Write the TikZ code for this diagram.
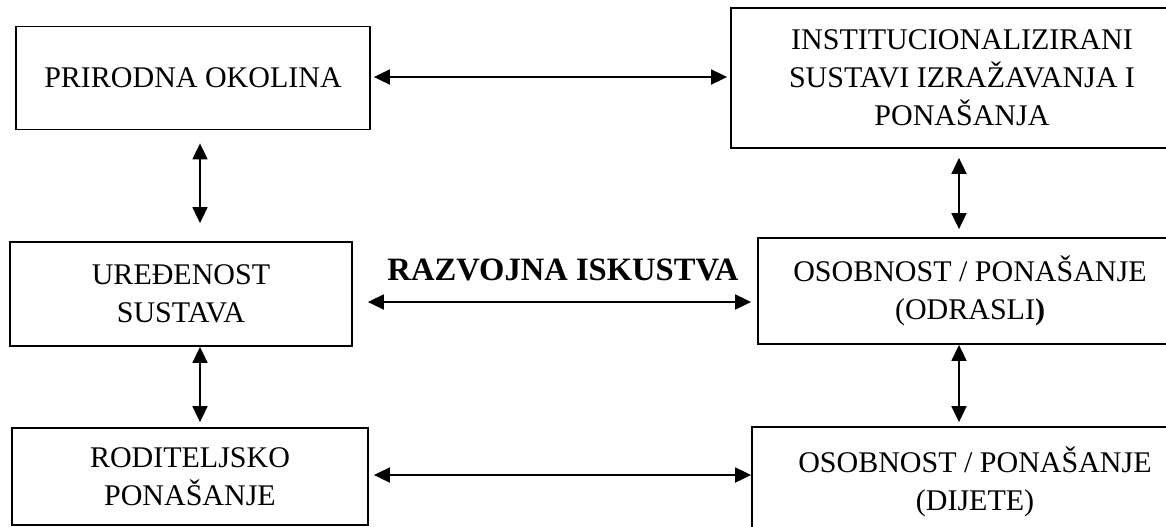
\documentclass[tikz,border=0pt]{standalone}
\usepackage{fontspec}
\setmainfont{Liberation Serif}
\usetikzlibrary{arrows.meta,positioning,calc}

\begin{document}
\begin{tikzpicture}[x=0.5pt,y=-0.5pt,
  box/.style={draw,line width=0.9pt,align=center,inner sep=0pt,
    font=\fontsize{15}{19}\selectfont},
  cutbox/.style={box,draw=none},
  rim/.style={line width=0.9pt},
  link/.style={{Triangle[length=8pt,width=7.5pt]}-{Triangle[length=8pt,width=7.5pt]},
    line width=0.9pt}]
  \useasboundingbox (0,0) rectangle (1166,526);
  \clip (0,0) rectangle (1166,526);
  % left column
  \node[box,minimum width=177pt,minimum height=51.5pt] (prirodna) at (193,78)
    {PRIRODNA OKOLINA};
  \node[box,minimum width=171pt,minimum height=52pt] (uredenost) at (181,294)
    {UREĐENOST\\SUSTAVA};
  \node[box,minimum width=178pt,minimum height=48.5pt] (roditelj) at (190,476.5)
    {RODITELJSKO\\PONAŠANJE};
  % right column, cut off by the page edge
  \node[cutbox,minimum width=230pt,minimum height=69pt] (institucija) at (962,78)
    {INSTITUCIONALIZIRANI\\SUSTAVI IZRAŽAVANJA I\\PONAŠANJA};
  \node[cutbox,minimum width=211pt,minimum height=52pt] (odrasli) at (970,291)
    {OSOBNOST / PONAŠANJE\\(ODRASLI\textbf{)}};
  \node[cutbox,minimum width=222pt,minimum height=54pt] (dijete) at (975,482)
    {OSOBNOST / PONAŠANJE\\(DIJETE)};
  \foreach \n in {institucija,odrasli,dijete}
    \draw[rim] (\n.north east) -- (\n.north west) -- (\n.south west) -- (\n.south east);
  \node[font=\fontsize{16.3}{19}\selectfont\bfseries] (razvojna) at (563,270)
    {RAZVOJNA ISKUSTVA};
  % connectors
  \draw[link,shorten <=1.5pt,shorten >=2pt]
    ([yshift=0.5pt]prirodna.east) -- ([yshift=0.5pt]prirodna.east -| institucija.west);
  \draw[link,shorten <=6.5pt,shorten >=9pt]
    ([xshift=3.5pt]prirodna.south) -- ([xshift=3.5pt]prirodna.south |- uredenost.north);
  \draw[link,shorten >=2.5pt]
    ([xshift=9.5pt]uredenost.south) -- ([xshift=9.5pt]uredenost.south |- roditelj.north);
  \draw[link,shorten <=5pt,shorten >=4.5pt]
    ([xshift=-1.5pt]institucija.south) -- ([xshift=-1.5pt]institucija.south |- odrasli.north);
  \draw[link,shorten <=0.5pt,shorten >=2.5pt]
    ([xshift=-5.5pt]odrasli.south) -- ([xshift=-5.5pt]odrasli.south |- dijete.north);
  \draw[link,shorten <=7.5pt,shorten >=3.5pt]
    ([yshift=-4pt]uredenost.east) -- ([yshift=-4pt]uredenost.east -| odrasli.west);
  \draw[link,shorten <=2.5pt,shorten >=0.5pt]
    ([yshift=0.75pt]roditelj.east) -- ([yshift=0.75pt]roditelj.east -| dijete.west);
\end{tikzpicture}
\end{document}
